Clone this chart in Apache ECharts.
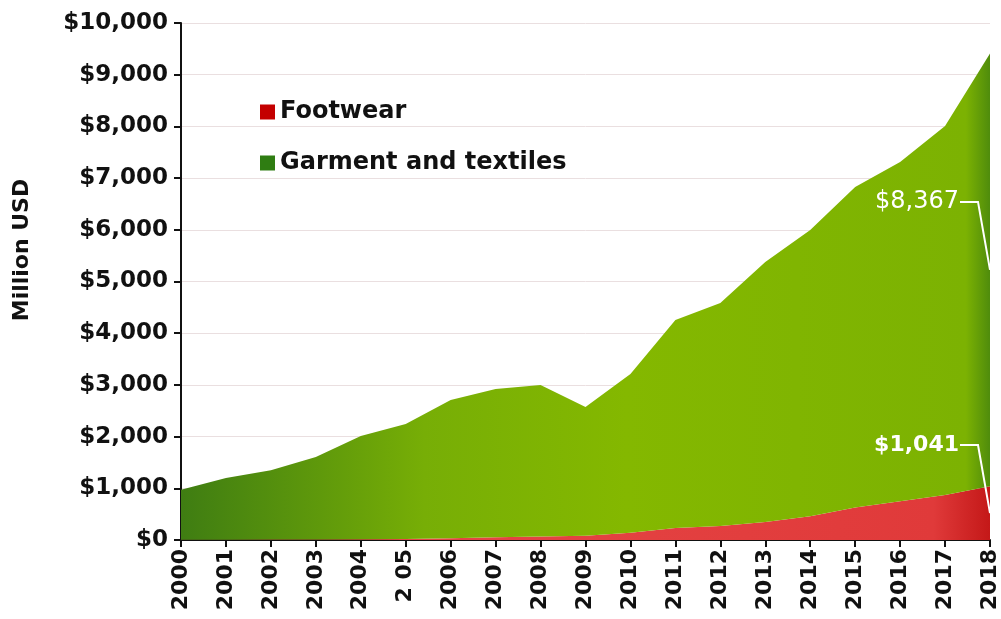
<!DOCTYPE html>
<html><head><meta charset="utf-8">
<script src="https://cdn.jsdelivr.net/npm/echarts@6/dist/echarts.min.js"></script>
<style>html,body{margin:0;padding:0;background:#fff}#c{width:1001px;height:619px}</style>
</head><body><div id="c"></div>
<script>
const years = ['2000','2001','2002','2003','2004','2 05','2006','2007','2008','2009','2010','2011','2012','2013','2014','2015','2016','2017','2018'];
const footwear = [5,5,8,10,15,20,35,55,70,80,140,230,270,350,460,630,750,870,1041];
const garment = [965,1195,1342,1595,1995,2224,2673,2865,2928,2492,3070,4025,4314,5027,5536,6198,6561,7138,8367];
const yTicks = [0,1000,2000,3000,4000,5000,6000,7000,8000,9000,10000];
const FONT = '"DejaVu Sans", sans-serif';

const chart = echarts.init(document.getElementById('c'));
const fmt = v => '$' + v.toLocaleString('en-US');
chart.setOption({
  animation: false,
  grid: {left: 181, right: 11, top: 23, bottom: 79},
  legend: {
    orient: 'vertical', left: 255, top: 95, itemGap: 27, itemWidth: 15, itemHeight: 15,
    icon: 'rect',
    textStyle: {fontFamily: FONT, fontWeight: 'bold', fontSize: 24, lineHeight: 24, color: '#111'},
    data: [{name: 'Footwear', itemStyle: {color: '#c40000'}}, {name: 'Garment and textiles', itemStyle: {color: '#2f7d12'}}]
  },
  xAxis: {
    type: 'category', data: years, boundaryGap: false,
    axisLine: {lineStyle: {color: '#111', width: 2}},
    axisTick: {show: true, length: 7, lineStyle: {color: '#111', width: 2}},
    axisLabel: {rotate: 90, fontFamily: FONT, fontWeight: 'bold', fontSize: 22, color: '#111', margin: 9}
  },
  yAxis: {
    type: 'value', min: yTicks[0], max: yTicks[yTicks.length-1], interval: 1000,
    axisLine: {show: true, lineStyle: {color: '#111', width: 2}},
    axisTick: {show: true, length: 7, lineStyle: {color: '#111', width: 2}},
    splitLine: {lineStyle: {color: '#eadfe0', width: 1}},
    axisLabel: {formatter: fmt, fontFamily: FONT, fontWeight: 'bold', fontSize: 23, color: '#111', margin: 13}
  },
  series: [
    {name: 'Footwear', type: 'line', stack: 't', data: footwear, symbol: 'none', lineStyle: {width: 0},
     itemStyle: {color: '#c40000'},
     areaStyle: {opacity: 1, color: new echarts.graphic.LinearGradient(0,0,1,0,[
       {offset: 0, color: '#e84a4a'}, {offset: 0.93, color: '#e03a3a'}, {offset: 1, color: '#c41818'}])}},
    {name: 'Garment and textiles', type: 'line', stack: 't', data: garment, symbol: 'none', lineStyle: {width: 0},
     itemStyle: {color: '#2f7d12'},
     areaStyle: {opacity: 1, color: new echarts.graphic.LinearGradient(0,0,1,0,[
       {offset: 0, color: '#3f7d12'}, {offset: 0.3, color: '#77ae06'}, {offset: 0.55, color: '#84b800'},
       {offset: 0.97, color: '#7cb202'}, {offset: 1, color: '#4f8c0c'}])}}
  ]
});

const last = years.length - 1;
const pG = chart.convertToPixel({xAxisIndex: 0, yAxisIndex: 0}, [last, footwear[last] + garment[last] / 2]);
const pF = chart.convertToPixel({xAxisIndex: 0, yAxisIndex: 0}, [last, footwear[last] / 2]);
function leader(p, text, weight, size) {
  const ly = p[1] - 68;
  return [
    {type: 'polyline', shape: {points: [[p[0]-30, ly], [p[0]-12, ly], p]}, style: {stroke: '#fff', lineWidth: 2, fill: null}, z: 10},
    {type: 'text', x: p[0]-31, y: ly, style: {text: text, fill: '#fff', font: weight + ' ' + size + 'px "DejaVu Sans", sans-serif', align: 'right', verticalAlign: 'middle'}, z: 10}
  ];
}
chart.setOption({graphic: [
  {type: 'text', x: 22, y: 250, rotation: Math.PI/2, style: {text: 'Million USD', fill: '#111', font: 'bold 22px "DejaVu Sans", sans-serif', align: 'center', verticalAlign: 'middle'}},
  ...leader(pG, fmt(garment[last]), 'normal', 24),
  ...leader(pF, fmt(footwear[last]), 'bold', 22)
]});
</script></body></html>
